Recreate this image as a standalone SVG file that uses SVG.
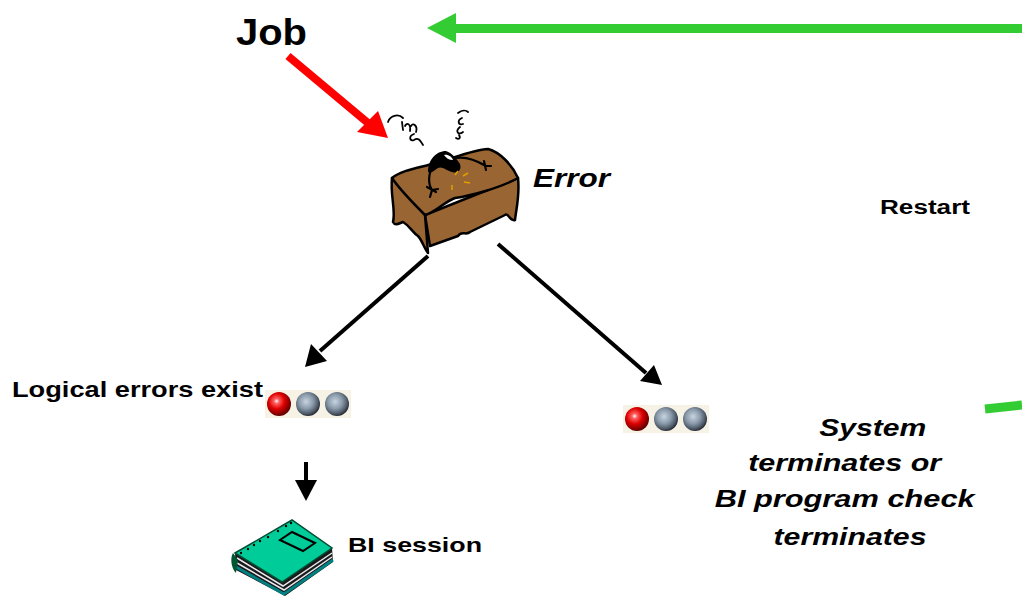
<svg xmlns="http://www.w3.org/2000/svg" width="1022" height="598" viewBox="0 0 1022 598">
  <style>
    text { font-family: "Liberation Sans", Arial, sans-serif; font-weight: bold; fill: #000; }
    .it { font-style: italic; }
    .blk { stroke: #000; stroke-width: 4; fill: none; }
    .grn { stroke: #33CC33; stroke-width: 9; fill: none; }
    .ink { stroke: #000; fill: none; stroke-linecap: round; stroke-linejoin: round; }
    .wood { fill: #996633; stroke: #000; stroke-width: 2.5; stroke-linejoin: round; }
  </style>
  <defs>
    <radialGradient id="redLamp" cx="0.4" cy="0.38" r="0.6">
      <stop offset="0" stop-color="#ffffff"/>
      <stop offset="0.18" stop-color="#ff6060"/>
      <stop offset="0.55" stop-color="#dd0000"/>
      <stop offset="1" stop-color="#6a0000"/>
    </radialGradient>
    <radialGradient id="greyLamp" cx="0.42" cy="0.4" r="0.6">
      <stop offset="0" stop-color="#c8d4e0"/>
      <stop offset="0.5" stop-color="#8a9aaa"/>
      <stop offset="0.85" stop-color="#4d5866"/>
      <stop offset="1" stop-color="#2a2f38"/>
    </radialGradient>
    <g id="lights">
      <rect x="-14" y="-14" width="86" height="28" fill="#f6f3e6"/>
      <circle cx="0" cy="0" r="12" fill="url(#redLamp)"/>
      <circle cx="29" cy="0" r="12" fill="url(#greyLamp)"/>
      <circle cx="58" cy="0" r="12" fill="url(#greyLamp)"/>
    </g>
  </defs>

  <!-- connectors -->
  <g id="connectors">
    <!-- restart loop -->
    <line class="grn" x1="1022" y1="28.5" x2="452" y2="28.5"/>
    <polygon points="427,28 456,13 456,43" fill="#33CC33"/>
    <line class="grn" x1="985" y1="409" x2="1022" y2="405"/>
    <!-- job enters -->
    <line x1="288" y1="56" x2="368" y2="123" stroke="#FF0000" stroke-width="8"/>
    <polygon points="388,138 357,132 378,111" fill="#FF0000"/>
    <!-- error branches -->
    <line class="blk" x1="428" y1="256" x2="320" y2="351"/>
    <polygon points="305,367 311,344 327,361" fill="#000"/>
    <line class="blk" x1="498" y1="244" x2="646" y2="373"/>
    <polygon points="662,385 640,381 654,365" fill="#000"/>
    <line class="blk" x1="306" y1="462" x2="306" y2="482"/>
    <polygon points="306,501 295,480 317,480" fill="#000"/>
  </g>

  <!-- job label -->
  <g id="job">
    <text x="236" y="45" font-size="36" textLength="71" lengthAdjust="spacingAndGlyphs">Job</text>
  </g>

  <!-- broken-down desk with bug -->
  <g id="error">
    <!-- right side face -->
    <path class="wood" d="M425,215 L518,178 C520,195 516,210 515,220 C510,222 508,212 505,215 L470,232 C466,236 462,230 458,236 L430,246 Z"/>
    <!-- front face -->
    <path class="wood" d="M392,178 L425,215 L428,253 C424,248 422,240 418,236 C412,232 410,226 403,222 C398,224 395,226 393,222 C396,210 390,195 392,178 Z"/>
    <!-- top face -->
    <path class="wood" d="M392,178 C402,170 418,168 432,164 C450,160 470,150 488,149 C500,152 512,165 518,178 C500,188 470,196 455,198 C444,202 436,212 425,215 C414,204 400,190 392,178 Z"/>
    <!-- bug -->
    <path d="M428,172 C428,160 436,151 446,151 C452,153 456,158 460,164 C462,170 458,174 452,172 C446,170 442,166 438,168 C434,170 432,174 428,172 Z" fill="#000"/>
    <path d="M444,155 C448,154 452,157 453,160 C449,160 446,158 444,155 Z" fill="#fff"/>
    <path class="ink" stroke-width="2.2" d="M433,166 C428,174 428,184 432,190 M427,187 L436,192 M432,190 L430,197 M432,190 L438,189"/>
    <path class="ink" stroke-width="2.2" d="M455,158 C466,156 476,160 486,166 M484,161 L486,170 M486,166 L491,166"/>
    <!-- impact rays -->
    <path stroke="#E0A000" stroke-width="1.5" fill="none" d="M455,175 L458,171 M463,176 L468,173 M464,182 L470,183 M452,185 L452,190"/>
    <!-- dizzy squiggles -->
    <path class="ink" stroke-width="1.8" d="M388,122 C390,116 398,113 403,118 M402,122 L403,130 M405,126 C407,122 411,124 410,131 M411,126 C413,122 418,126 416,132 M414,134 C408,136 410,142 414,140 C418,137 420,140 423,145"/>
    <path class="ink" stroke-width="1.8" d="M458,113 C462,110 466,110 468,112 M462,118 C457,120 458,126 463,124 M460,127 C455,131 458,136 463,132 M456,138 C459,140 461,138 459,135"/>
    <text class="it" x="533" y="187" font-size="25" textLength="77" lengthAdjust="spacingAndGlyphs">Error</text>
  </g>

  <!-- restart label -->
  <g id="restart">
    <text x="880" y="214" font-size="20" textLength="90" lengthAdjust="spacingAndGlyphs">Restart</text>
  </g>

  <!-- logical errors -->
  <g id="logical-errors">
    <text x="12" y="397" font-size="22" textLength="251" lengthAdjust="spacingAndGlyphs">Logical errors exist</text>
    <use href="#lights" x="279" y="404"/>
  </g>

  <!-- system termination -->
  <g id="system-terminates">
    <use href="#lights" x="637" y="419"/>
    <text class="it" font-size="24" text-anchor="middle">
      <tspan x="876" y="436" textLength="107" lengthAdjust="spacingAndGlyphs">System</tspan>
      <tspan x="848" y="471" textLength="193" lengthAdjust="spacingAndGlyphs">terminates or</tspan>
      <tspan x="848" y="507" textLength="260" lengthAdjust="spacingAndGlyphs">BI program check</tspan>
      <tspan x="850" y="545" textLength="153" lengthAdjust="spacingAndGlyphs">terminates</tspan>
    </text>
  </g>

  <!-- batch input session book -->
  <g id="bi-session">
    <!-- page block -->
    <path d="M235,553 L282,582 L332,548 L333,562 L285,596 L236,570 Z" fill="#1a1a1a"/>
    <path d="M237,558 L283,586 L332,553 M237,563 L284,590 L332,557" stroke="#e8e8f0" stroke-width="1.5" fill="none"/>
    <path d="M236,567 L284,594 L333,560" stroke="#008080" stroke-width="3" fill="none"/>
    <!-- spine -->
    <path d="M233,553 C230,558 231,568 236,573 L238,560 Z" fill="#005533"/>
    <!-- cover -->
    <path d="M235,553 L292,520 L332,548 L282,582 Z" fill="#00CC99" stroke="#004d33" stroke-width="1.5"/>
    <path d="M280,540 L292,532 L315,543 L303,551 Z" fill="none" stroke="#000" stroke-width="2"/>
    <g fill="#000">
      <circle cx="241" cy="553" r="1.2"/><circle cx="248" cy="549" r="1.2"/>
      <circle cx="254" cy="545" r="1.2"/><circle cx="260" cy="541" r="1.2"/>
      <circle cx="268" cy="537" r="1.2"/><circle cx="278" cy="531" r="1.2"/>
      <circle cx="286" cy="526" r="1.2"/><circle cx="291" cy="523" r="1.2"/>
    </g>
    <text x="348" y="552" font-size="21" textLength="134" lengthAdjust="spacingAndGlyphs">BI session</text>
  </g>
</svg>
